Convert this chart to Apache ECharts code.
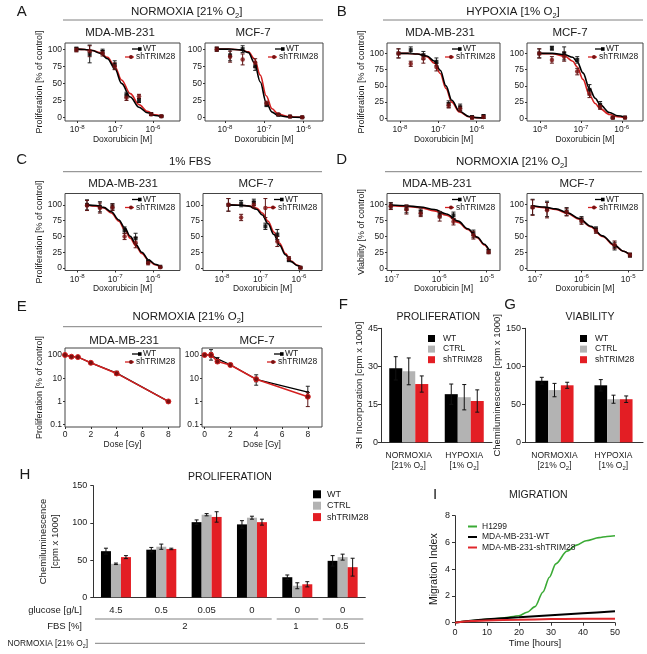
<!DOCTYPE html>
<html><head><meta charset="utf-8">
<script src="https://cdn.jsdelivr.net/npm/echarts@6/dist/echarts.min.js"></script>
<style>html,body{margin:0;padding:0;background:#fff}#c{width:647px;height:654px}</style>
</head><body><div id="c"></div>
<script>
const FONT = "'Liberation Sans', Arial, sans-serif";
const TXT = '#1a1a1a';

// ---------------- tick labels ----------------
const doseTicksABC = [-8, -7, -6];          // log10 of dose [M]
const doseTicksD = [-7, -6, -5];
const pctTicks = [0, 25, 50, 75, 100];
const eDoseTicks = [0, 2, 4, 6, 8];
const eYTicks = [0.1, 1, 10, 100];

// ---------------- A: normoxia, proliferation ----------------
const a1LogDose = [-8.02, -7.67, -7.33, -7.01, -6.70, -6.37, -6.05, -5.78];
const a1WT = [100, 93, 96, 77, 33, 25, 5, 2];
const a1WTsd = [3, 13, 4, 6, 4, 3, 2, 1];
const a1SH = [99, 97, 94, 75, 29, 31, 5, 2];
const a1SHsd = [3, 8, 4, 5, 4, 3, 2, 1];
const a1FitX = [-8.02, -7.8, -7.6, -7.4, -7.2, -7.0, -6.83, -6.6, -6.37, -6.15, -5.95, -5.78];
const a1FitWT = [100, 99.5, 98, 94, 86, 71, 50, 30, 15, 7, 3, 1.5];
const a1FitSH = [100, 99.5, 98, 95, 88, 74, 55, 35, 19, 9, 4, 2];

const a2LogDose = [-8.21, -7.87, -7.55, -7.23, -6.94, -6.64, -6.34, -6.03];
const a2WT = [100, 91, 100, 75, 19, 4, 1.5, 0.5];
const a2WTsd = [3, 8, 5, 6, 3, 1, 1, 0.5];
const a2SH = [100, 89, 85, 80, 21, 5, 1.5, 0.5];
const a2SHsd = [3, 8, 8, 6, 3, 1, 1, 0.5];
const a2FitX = [-8.21, -7.9, -7.6, -7.4, -7.25, -7.1, -6.95, -6.8, -6.64, -6.4, -6.2, -6.03];
const a2FitWT = [100, 100, 99, 95, 80, 52, 22, 8, 3, 1, 0.5, 0.3];
const a2FitSH = [100, 100, 99, 96, 86, 62, 32, 13, 5, 1.5, 0.7, 0.4];

// ---------------- B: hypoxia, proliferation ----------------
const b1LogDose = [-8.04, -7.72, -7.39, -7.05, -6.73, -6.43, -6.12, -5.82];
const b1WT = [100, 105, 97, 87, 22, 17, 2, 3];
const b1WTsd = [7, 5, 6, 6, 5, 5, 2, 3];
const b1SH = [100, 84, 92, 79, 20, 15, 1, 2];
const b1SHsd = [7, 4, 7, 6, 4, 4, 2, 2];
const b1FitX = [-8.04, -7.8, -7.55, -7.3, -7.1, -6.95, -6.8, -6.65, -6.45, -6.2, -6.0, -5.82];
const b1FitWT = [100, 100, 99, 96, 88, 74, 50, 28, 11, 3, 1.2, 0.6];
const b1FitSH = [100, 100, 99, 95, 85, 69, 46, 25, 10, 2.5, 1, 0.5];

const b2LogDose = [-8.02, -7.71, -7.41, -7.09, -6.79, -6.53, -6.22, -5.92];
const b2WT = [100, 108, 100, 90, 44, 21, 1, 1.5];
const b2WTsd = [7, 3, 10, 5, 8, 5, 1, 1];
const b2SH = [100, 90, 95, 72, 38, 18, 1, 1];
const b2SHsd = [7, 5, 7, 5, 6, 4, 1, 1];
const b2FitX = [-8.02, -7.7, -7.4, -7.2, -7.09, -6.95, -6.79, -6.65, -6.53, -6.3, -6.1, -5.92];
const b2FitWT = [100, 100, 98, 94, 87, 70, 46, 31, 21, 9, 4, 1.8];
const b2FitSH = [100, 99.5, 96, 88, 79, 60, 36, 23, 15, 6, 2.5, 1.2];

// ---------------- C: 1% FBS, proliferation ----------------
const c1LogDose = [-7.74, -7.4, -7.07, -6.75, -6.46, -6.13, -5.81];
const c1WT = [100, 97, 97, 60, 47, 10, 2];
const c1WTsd = [8, 8, 5, 5, 8, 3, 1];
const c1SH = [99, 95, 96, 50, 40, 8, 1];
const c1SHsd = [8, 8, 5, 5, 8, 3, 1];
const c1FitX = [-7.74, -7.5, -7.3, -7.1, -6.9, -6.75, -6.6, -6.45, -6.3, -6.1, -5.95, -5.81];
const c1FitWT = [100, 99, 96, 89, 76, 64, 50, 37, 25, 12, 6, 2.5];
const c1FitSH = [99.5, 98, 95, 87, 74, 61, 47, 35, 23, 11, 5, 2];

const c2LogDose = [-7.83, -7.5, -7.17, -6.87, -6.56, -6.26, -5.96];
const c2WT = [100, 102, 104, 66, 53, 13, 0.5];
const c2WTsd = [10, 5, 5, 5, 8, 3, 1];
const c2SH = [100, 80, 100, 95, 42, 15, 0.5];
const c2SHsd = [10, 5, 5, 15, 8, 3, 1];
const c2FitX = [-7.83, -7.55, -7.3, -7.1, -6.95, -6.8, -6.65, -6.5, -6.35, -6.2, -6.05, -5.96];
const c2FitWT = [100, 99.5, 98, 93, 84, 70, 53, 36, 21, 10, 4, 2];
const c2FitSH = [100, 99.5, 98.5, 95, 87, 74, 57, 39, 23, 11, 4.5, 2];

// ---------------- D: normoxia, viability ----------------
const d1LogDose = [-7.02, -6.69, -6.39, -5.99, -5.70, -5.28, -4.96];
const d1WT = [98, 93, 88, 84, 83, 54, 27];
const d1WTsd = [5, 6, 5, 5, 5, 6, 3];
const d1SH = [97, 92, 86, 81, 73, 52, 26];
const d1SHsd = [5, 7, 5, 7, 5, 6, 3];
const d1FitX = [-7.02, -6.7, -6.4, -6.1, -5.85, -5.6, -5.4, -5.2, -5.05, -4.96];
const d1FitWT = [99, 98, 96, 92, 85, 74, 62, 49, 38, 30];
const d1FitSH = [98, 97, 95, 90, 83, 72, 61, 48, 37, 29];

const d2LogDose = [-7.05, -6.74, -6.32, -6.0, -5.69, -5.29, -4.96];
const d2WT = [96, 93, 89, 76, 61, 35, 21];
const d2WTsd = [12, 12, 6, 5, 4, 6, 3];
const d2SH = [95, 91, 88, 74, 59, 37, 21];
const d2SHsd = [12, 12, 6, 5, 4, 6, 3];
const d2FitX = [-7.05, -6.8, -6.55, -6.3, -6.05, -5.8, -5.55, -5.3, -5.1, -4.96];
const d2FitWT = [98, 96, 93, 87, 78, 66, 51, 37, 27, 21];
const d2FitSH = [97, 95, 92, 86, 77, 65, 50, 36, 27, 21];

// ---------------- E: irradiation ----------------
const eDose = [0, 0.5, 1, 2, 4, 8];
const e1WT = [100, 85, 82, 46, 16.5, 1.0];
const e1WTlo = [95, 82, 79, 42, 14, 0.9];
const e1WThi = [105, 88, 85, 50, 20, 1.1];
const e1SH = [100, 84, 81, 46, 16, 1.0];
const e1SHlo = [95, 81, 78, 42, 14, 0.9];
const e1SHhi = [105, 87, 84, 50, 19, 1.1];
const e2WT = [100, 100, 68, 38, 9, 2.5];
const e2WTlo = [95, 60, 60, 33, 5, 1.8];
const e2WThi = [105, 170, 78, 44, 14, 4.5];
const e2SH = [100, 100, 52, 37, 9, 1.6];
const e2SHlo = [95, 80, 45, 32, 7, 0.6];
const e2SHhi = [105, 125, 60, 42, 11, 2.4];

// ---------------- F / G ----------------
const fgCats = ['NORMOXIA [21% O2]', 'HYPOXIA [1% O2]'];
const fWT = [29.2, 19], fWTsd = [4.6, 4];
const fCTRL = [28, 17.8], fCTRLsd = [5.3, 5];
const fSH = [23, 16.3], fSHsd = [3.2, 4.4];
const gWT = [81, 75], gWTsd = [4.5, 7.5];
const gCTRL = [68.7, 56.7], gCTRLsd = [8.8, 5.3];
const gSH = [75, 56.7], gSHsd = [4, 4.3];

// ---------------- H ----------------
const hGlucose = ['4.5', '0.5', '0.05', '0', '0', '0'];
const hWT = [62, 64, 101, 98, 27, 49], hWTsd = [4, 3, 3, 5, 3, 7];
const hCTRL = [45, 68, 111, 107, 15.5, 54], hCTRLsd = [1, 3.5, 1.5, 2, 4, 4];
const hSH = [54, 65, 108, 101, 17.5, 40.5], hSHsd = [2, 1, 7, 4, 3.5, 12];

// ---------------- I ----------------
const iTimeG = [0, 5, 10, 15, 20, 22.5, 25, 27.5, 29.5, 31.5, 35, 38, 41, 45, 47.5, 50];
const iH1299 = [0.02, 0.15, 0.25, 0.35, 0.52, 0.78, 1.2, 2.3, 3.4, 4.4, 5.35, 5.8, 6.13, 6.36, 6.45, 6.5];
const iTime = [0, 5, 10, 20, 30, 40, 50];
const iWT = [0, 0.15, 0.25, 0.4, 0.55, 0.7, 0.85];
const iSH = [0, 0.12, 0.17, 0.22, 0.27, 0.3, 0.3];

// ======================= builders =======================
const grids = [], xAxes = [], yAxes = [], series = [], legends = [], graphics = [];
const zip = (a, b) => a.map((v, i) => [v, b[i]]);
const BLACK = '#000', RED = '#d42020', DRED = '#7a1010', GRAY = '#b3b3b3', BRED = '#e31e24';

function errSeries(gi, xs, lo, hi, color, half, off, name) {
  return {
    type: 'custom', name, xAxisIndex: gi, yAxisIndex: gi, silent: true, z: 4,
    data: xs.map((x, i) => [x, lo[i], hi[i]]),
    encode: { x: 0, y: [1, 2] },
    renderItem: (params, api) => {
      const a = api.coord([api.value(0), api.value(1)]);
      const b = api.coord([api.value(0), api.value(2)]);
      const x = a[0] + (off || 0);
      const st = { stroke: color, lineWidth: 1 };
      return { type: 'group', children: [
        { type: 'line', shape: { x1: x, y1: a[1], x2: x, y2: b[1] }, style: st },
        { type: 'line', shape: { x1: x - half, y1: a[1], x2: x + half, y2: a[1] }, style: st },
        { type: 'line', shape: { x1: x - half, y1: b[1], x2: x + half, y2: b[1] }, style: st }
      ] };
    }
  };
}

function supRich(size) {
  return {
    b: { fontSize: size, fontFamily: FONT, color: TXT, lineHeight: size + 3 },
    s: { fontSize: size * 0.72, fontFamily: FONT, color: TXT, verticalAlign: 'top', lineHeight: size * 0.55 }
  };
}

function doseLegend(right, top) {
  const y1 = top + 6, y2 = top + 14;
  graphics.push(
    { type: 'line', shape: { x1: right - 48, y1: y1, x2: right - 39, y2: y1 }, style: { stroke: BLACK, lineWidth: 1.3 }, silent: true },
    { type: 'rect', shape: { x: right - 42, y: y1 - 1.8, width: 3.6, height: 3.6 }, style: { fill: BLACK }, silent: true },
    { type: 'text', x: right - 37, y: y1, style: { text: 'WT', fontSize: 8.5, fontFamily: FONT, fill: TXT, align: 'left', verticalAlign: 'middle' }, silent: true },
    { type: 'line', shape: { x1: right - 55, y1: y2, x2: right - 46, y2: y2 }, style: { stroke: RED, lineWidth: 1.3 }, silent: true },
    { type: 'circle', shape: { cx: right - 49, cy: y2, r: 2 }, style: { fill: DRED }, silent: true },
    { type: 'text', x: right - 44, y: y2, style: { text: 'shTRIM28', fontSize: 8.5, fontFamily: FONT, fill: TXT, align: 'left', verticalAlign: 'middle' }, silent: true }
  );
}

function dosePanel(p) {
  const gi = grids.length;
  const [l, t, w, h] = p.box;
  grids.push({ left: l, top: t, width: w, height: h, show: true, borderColor: '#444', borderWidth: 1 });
  xAxes.push({
    gridIndex: gi, type: 'value', min: p.x[0], max: p.x[1], position: 'bottom',
    axisLine: { show: false, onZero: false }, splitLine: { show: false },
    axisTick: { show: true, customValues: p.ticks, length: 2, lineStyle: { color: '#333' } },
    axisLabel: { customValues: p.ticks, margin: 3, formatter: v => '{b|10}{s|' + v + '}', rich: supRich(8.5) },
    name: 'Doxorubicin [M]', nameLocation: 'middle', nameGap: 12,
    nameTextStyle: { fontSize: 8.5, color: TXT, fontFamily: FONT }
  });
  yAxes.push({
    gridIndex: gi, type: 'value', min: p.y[0], max: p.y[1], position: 'left',
    axisLine: { show: false, onZero: false }, splitLine: { show: false },
    axisTick: { show: true, customValues: pctTicks, length: 2, lineStyle: { color: '#333' } },
    axisLabel: { customValues: pctTicks, fontSize: 8.5, margin: 3, color: TXT, fontFamily: FONT },
    name: p.yName || '', nameLocation: 'middle', nameGap: 17,
    nameTextStyle: { fontSize: 9, color: TXT, fontFamily: FONT }
  });
  const id = p.id;
  series.push(
    { type: 'line', name: id + ' shTRIM28 fit', xAxisIndex: gi, yAxisIndex: gi, data: zip(p.fx, p.fsh), symbol: 'none', smooth: 0.35, smoothMonotone: 'x', lineStyle: { color: RED, width: 1.6 }, z: 2, silent: true },
    { type: 'line', name: id + ' WT fit', xAxisIndex: gi, yAxisIndex: gi, data: zip(p.fx, p.fwt), symbol: 'none', smooth: 0.35, smoothMonotone: 'x', lineStyle: { color: BLACK, width: 1.6 }, z: 3, silent: true },
    errSeries(gi, p.d, p.wt.map((v, i) => v - p.wtsd[i]), p.wt.map((v, i) => v + p.wtsd[i]), '#222', 2, 0, id + ' WT sd'),
    errSeries(gi, p.d, p.sh.map((v, i) => v - p.shsd[i]), p.sh.map((v, i) => v + p.shsd[i]), '#5a1515', 2, 0, id + ' sh sd'),
    { type: 'scatter', name: id + ' WT', xAxisIndex: gi, yAxisIndex: gi, data: zip(p.d, p.wt), symbol: 'rect', symbolSize: 4, itemStyle: { color: BLACK }, z: 5, silent: true },
    { type: 'scatter', name: id + ' shTRIM28', xAxisIndex: gi, yAxisIndex: gi, data: zip(p.d, p.sh), symbol: 'circle', symbolSize: 4.5, itemStyle: { color: DRED }, z: 6, silent: true }
  );
  doseLegend(l + w, t);
}

const PROLIF = 'Proliferation [% of control]';
dosePanel({ id: 'A1', box: [65, 43, 115, 78], x: [-8.32, -5.29], y: [-5, 109], ticks: doseTicksABC, yName: PROLIF,
  d: a1LogDose, wt: a1WT, wtsd: a1WTsd, sh: a1SH, shsd: a1SHsd, fx: a1FitX, fwt: a1FitWT, fsh: a1FitSH });
dosePanel({ id: 'A2', box: [205, 43, 118, 78], x: [-8.51, -5.5], y: [-5, 109], ticks: doseTicksABC,
  d: a2LogDose, wt: a2WT, wtsd: a2WTsd, sh: a2SH, shsd: a2SHsd, fx: a2FitX, fwt: a2FitWT, fsh: a2FitSH });
dosePanel({ id: 'B1', box: [387, 43, 113, 78], x: [-8.34, -5.39], y: [-4, 116], ticks: doseTicksABC, yName: PROLIF,
  d: b1LogDose, wt: b1WT, wtsd: b1WTsd, sh: b1SH, shsd: b1SHsd, fx: b1FitX, fwt: b1FitWT, fsh: b1FitSH });
dosePanel({ id: 'B2', box: [527, 43, 116, 78], x: [-8.32, -5.48], y: [-4, 116], ticks: doseTicksABC,
  d: b2LogDose, wt: b2WT, wtsd: b2WTsd, sh: b2SH, shsd: b2SHsd, fx: b2FitX, fwt: b2FitWT, fsh: b2FitSH });
dosePanel({ id: 'C1', box: [65, 193.5, 115, 77], x: [-8.32, -5.29], y: [-4, 118], ticks: doseTicksABC, yName: PROLIF,
  d: c1LogDose, wt: c1WT, wtsd: c1WTsd, sh: c1SH, shsd: c1SHsd, fx: c1FitX, fwt: c1FitWT, fsh: c1FitSH });
dosePanel({ id: 'C2', box: [203, 193.5, 119, 77], x: [-8.49, -5.4], y: [-4, 118], ticks: doseTicksABC,
  d: c2LogDose, wt: c2WT, wtsd: c2WTsd, sh: c2SH, shsd: c2SHsd, fx: c2FitX, fwt: c2FitWT, fsh: c2FitSH });
dosePanel({ id: 'D1', box: [387, 193.5, 113, 77], x: [-7.1, -4.72], y: [-3, 117], ticks: doseTicksD, yName: 'Viability [% of control]',
  d: d1LogDose, wt: d1WT, wtsd: d1WTsd, sh: d1SH, shsd: d1SHsd, fx: d1FitX, fwt: d1FitWT, fsh: d1FitSH });
dosePanel({ id: 'D2', box: [527, 193.5, 116, 77], x: [-7.17, -4.68], y: [-3, 117], ticks: doseTicksD,
  d: d2LogDose, wt: d2WT, wtsd: d2WTsd, sh: d2SH, shsd: d2SHsd, fx: d2FitX, fwt: d2FitWT, fsh: d2FitSH });

function ePanel(p) {
  const gi = grids.length;
  const [l, t, w, h] = p.box;
  const L = v => Math.log10(v);
  grids.push({ left: l, top: t, width: w, height: h, show: true, borderColor: '#444', borderWidth: 1 });
  xAxes.push({
    gridIndex: gi, type: 'value', min: p.x[0], max: p.x[1], position: 'bottom',
    axisLine: { show: false, onZero: false }, splitLine: { show: false },
    axisTick: { show: true, customValues: eDoseTicks, length: 2, lineStyle: { color: '#333' } },
    axisLabel: { customValues: eDoseTicks, fontSize: 8.5, margin: 3, color: TXT, fontFamily: FONT },
    name: 'Dose [Gy]', nameLocation: 'middle', nameGap: 12, nameTextStyle: { fontSize: 8.5, color: TXT, fontFamily: FONT }
  });
  yAxes.push({
    gridIndex: gi, type: 'value', min: -1.1, max: 2.3, position: 'left',
    axisLine: { show: false, onZero: false }, splitLine: { show: false },
    axisTick: { show: true, customValues: eYTicks.map(L), length: 2, lineStyle: { color: '#333' } },
    axisLabel: { customValues: eYTicks.map(L), fontSize: 8.5, margin: 3, color: TXT, fontFamily: FONT,
      formatter: v => { const r = Math.pow(10, v); return r < 1 ? r.toFixed(1) : String(Math.round(r)); } },
    name: p.yName || '', nameLocation: 'middle', nameGap: 17, nameTextStyle: { fontSize: 9, color: TXT, fontFamily: FONT }
  });
  const id = p.id;
  series.push(
    errSeries(gi, eDose, p.wtlo.map(L), p.wthi.map(L), '#222', 2, 0, id + ' WT sd'),
    { type: 'line', name: id + ' WT', xAxisIndex: gi, yAxisIndex: gi, data: zip(eDose, p.wt.map(L)), symbol: 'circle', symbolSize: 3, itemStyle: { color: BLACK }, lineStyle: { color: BLACK, width: 1.3 }, z: 3, silent: true },
    errSeries(gi, eDose, p.shlo.map(L), p.shhi.map(L), '#5a1515', 2, 0, id + ' sh sd'),
    { type: 'line', name: id + ' shTRIM28', xAxisIndex: gi, yAxisIndex: gi, data: zip(eDose, p.sh.map(L)), symbol: 'circle', symbolSize: 5, itemStyle: { color: DRED, borderColor: RED, borderWidth: 1 }, lineStyle: { color: RED, width: 1.5 }, z: 5, silent: true }
  );
  doseLegend(l + w, t);
}
ePanel({ id: 'E1', box: [65, 348, 115, 79], x: [0, 8.9], yName: PROLIF, wt: e1WT, wtlo: e1WTlo, wthi: e1WThi, sh: e1SH, shlo: e1SHlo, shhi: e1SHhi });
ePanel({ id: 'E2', box: [202, 348, 120, 79], x: [-0.2, 9.1], wt: e2WT, wtlo: e2WTlo, wthi: e2WThi, sh: e2SH, shlo: e2SHlo, shhi: e2SHhi });

function catLabel(v) {
  const k = v.indexOf(' [');
  const a = v.slice(0, k), b = v.slice(k + 1).replace('O2]', 'O');
  return '{a|' + a + '}\n{a|' + b + '}{s|2}{a|]}';
}
const catRich = {
  a: { fontSize: 8.5, fontFamily: FONT, color: TXT, lineHeight: 10.5 },
  s: { fontSize: 6, fontFamily: FONT, color: TXT, verticalAlign: 'bottom', lineHeight: 5 }
};

function barPanel(p) {
  const gi = grids.length;
  grids.push({ left: p.box[0], top: p.box[1], width: p.box[2], height: p.box[3], show: false });
  xAxes.push({
    gridIndex: gi, type: 'category', data: p.cats,
    axisLine: { lineStyle: { color: '#333', width: 1 } },
    axisTick: { length: p.tickLen || 3, lineStyle: { color: '#333' } },
    axisLabel: p.labelFmt ? { interval: 0, margin: p.labelMargin, formatter: p.labelFmt, rich: p.rich, fontSize: p.labelSize, color: TXT, fontFamily: FONT }
                          : { interval: 0, margin: p.labelMargin, fontSize: p.labelSize, color: TXT, fontFamily: FONT }
  });
  yAxes.push({
    gridIndex: gi, type: 'value', min: 0, max: p.yMax, interval: p.yInt,
    axisLine: { show: true, lineStyle: { color: '#333', width: 1 } }, splitLine: { show: false },
    axisTick: { show: true, length: 3, lineStyle: { color: '#333' } },
    axisLabel: { fontSize: p.yLabelSize, margin: p.yMargin, color: TXT, fontFamily: FONT },
    name: p.yName, nameLocation: 'middle', nameGap: p.yNameGap,
    nameTextStyle: { fontSize: p.yNameSize, color: TXT, fontFamily: FONT, lineHeight: p.yNameLH || undefined }
  });
  const idx = p.cats.map((c, i) => i);
  const bw = p.bw;
  const sets = [['WT', BLACK, p.wt, p.wtsd], ['CTRL', GRAY, p.ctrl, p.ctrlsd], ['shTRIM28', BRED, p.sh, p.shsd]];
  sets.forEach(([name, color, vals]) => {
    series.push({ type: 'bar', name, xAxisIndex: gi, yAxisIndex: gi, data: vals, barWidth: bw, barGap: '0%', itemStyle: { color }, z: 2, silent: true });
  });
  sets.forEach(([name, color, vals, sd], k) => {
    series.push(errSeries(gi, idx, vals.map((v, i) => v - sd[i]), vals.map((v, i) => v + sd[i]), '#111', 2, (k - 1) * bw, p.id + ' ' + name + ' sd'));
  });
}

barPanel({ id: 'F', box: [381, 328.3, 111, 114], cats: fgCats, labelFmt: catLabel, rich: catRich, labelMargin: 8, labelSize: 8.5,
  yMax: 45, yInt: 15, yLabelSize: 9, yMargin: 3, yName: '3H Incorporation [cpm x 1000]', yNameGap: 12, yNameSize: 9.5,
  bw: 13, wt: fWT, wtsd: fWTsd, ctrl: fCTRL, ctrlsd: fCTRLsd, sh: fSH, shsd: fSHsd });
barPanel({ id: 'G', box: [525, 328.3, 118, 114], cats: fgCats, labelFmt: catLabel, rich: catRich, labelMargin: 8, labelSize: 8.5,
  yMax: 150, yInt: 50, yLabelSize: 9, yMargin: 4, yName: 'Chemiluminescence [cpm x 1000]', yNameGap: 18, yNameSize: 9.5,
  bw: 12.7, wt: gWT, wtsd: gWTsd, ctrl: gCTRL, ctrlsd: gCTRLsd, sh: gSH, shsd: gSHsd });
barPanel({ id: 'H', box: [93.3, 485.7, 272, 111.6], cats: hGlucose, labelMargin: 8, labelSize: 9.5, tickLen: 4,
  yMax: 150, yInt: 50, yLabelSize: 9, yMargin: 6, yName: 'Chemiluminescence\n[cpm x 1000]', yNameGap: 32, yNameSize: 9.5, yNameLH: 12,
  bw: 10, wt: hWT, wtsd: hWTsd, ctrl: hCTRL, ctrlsd: hCTRLsd, sh: hSH, shsd: hSHsd });

// legends for bar panels
const barLegendData = ['WT', 'CTRL', 'shTRIM28'];
legends.push(
  { left: 423, top: 329, orient: 'vertical', icon: 'rect', itemWidth: 7, itemHeight: 7, itemGap: 1.6, selectedMode: false,
    textStyle: { fontSize: 8.5, color: TXT, fontFamily: FONT, padding: [0, 0, 0, 3] }, data: barLegendData },
  { left: 575, top: 329, orient: 'vertical', icon: 'rect', itemWidth: 7, itemHeight: 7, itemGap: 1.6, selectedMode: false,
    textStyle: { fontSize: 8.5, color: TXT, fontFamily: FONT, padding: [0, 0, 0, 3] }, data: barLegendData },
  { left: 308, top: 484.8, orient: 'vertical', icon: 'rect', itemWidth: 8, itemHeight: 8, itemGap: 2.4, selectedMode: false,
    textStyle: { fontSize: 9, color: TXT, fontFamily: FONT, padding: [0, 0, 0, 1] }, data: barLegendData }
);

// I: migration
{
  const gi = grids.length;
  grids.push({ left: 455, top: 515.7, width: 160, height: 107, show: false });
  xAxes.push({ gridIndex: gi, type: 'value', min: 0, max: 50, interval: 10,
    axisLine: { lineStyle: { color: '#333' } }, splitLine: { show: false },
    axisTick: { length: 3, lineStyle: { color: '#333' } },
    axisLabel: { fontSize: 9, margin: 5, color: TXT, fontFamily: FONT },
    name: 'Time [hours]', nameLocation: 'middle', nameGap: 16, nameTextStyle: { fontSize: 9.5, color: TXT, fontFamily: FONT } });
  yAxes.push({ gridIndex: gi, type: 'value', min: 0, max: 8, interval: 2,
    axisLine: { show: true, lineStyle: { color: '#333' } }, splitLine: { show: false },
    axisTick: { show: true, length: 3, lineStyle: { color: '#333' } },
    axisLabel: { fontSize: 9, margin: 5, color: TXT, fontFamily: FONT },
    name: 'Migration Index', nameLocation: 'middle', nameGap: 15, nameTextStyle: { fontSize: 10.5, color: TXT, fontFamily: FONT } });
  series.push(
    { type: 'line', name: 'H1299', xAxisIndex: gi, yAxisIndex: gi, data: zip(iTimeG, iH1299), symbol: 'none', smooth: 0.3, smoothMonotone: 'x', lineStyle: { color: '#3aaa35', width: 1.6 }, itemStyle: { color: '#3aaa35' }, silent: true },
    { type: 'line', name: 'MDA-MB-231-WT', xAxisIndex: gi, yAxisIndex: gi, data: zip(iTime, iWT), symbol: 'none', smooth: 0.3, lineStyle: { color: BLACK, width: 2 }, itemStyle: { color: BLACK }, silent: true },
    { type: 'line', name: 'MDA-MB-231-shTRIM28', xAxisIndex: gi, yAxisIndex: gi, data: zip(iTime, iSH), symbol: 'none', smooth: 0.3, lineStyle: { color: '#e0282c', width: 2 }, itemStyle: { color: '#e0282c' }, silent: true }
  );
  legends.push({ left: 463, top: 517, orient: 'vertical', icon: 'rect', itemWidth: 9, itemHeight: 2, itemGap: 1.5, selectedMode: false,
    textStyle: { fontSize: 8.5, color: TXT, fontFamily: FONT, padding: [0, 0, 0, 0] },
    data: ['H1299', 'MDA-MB-231-WT', 'MDA-MB-231-shTRIM28'] });
}

// ---------------- text annotations ----------------
function txt(x, y, text, size, align) {
  graphics.push({ type: 'text', x, y, silent: true, z: 50,
    style: { text, fontSize: size, fontFamily: FONT, fill: TXT, align: align || 'center', verticalAlign: 'middle' } });
}
function subTxt(x, y, before, after, size, align) {
  graphics.push({ type: 'text', x, y, silent: true, z: 50,
    style: { text: '{t|' + before + '}{u|2}{t|' + after + '}', align: align || 'center', verticalAlign: 'middle',
      rich: { t: { fontSize: size, fontFamily: FONT, fill: TXT, lineHeight: size * 1.3 },
              u: { fontSize: size * 0.65, fontFamily: FONT, fill: TXT, verticalAlign: 'bottom', lineHeight: size * 0.55 } } } });
}
function hline(x1, x2, y, color) {
  graphics.push({ type: 'line', silent: true, shape: { x1, y1: y, x2, y2: y }, style: { stroke: color || '#808080', lineWidth: 1 } });
}

[['A', 21.7, 11.7], ['B', 341.7, 11.7], ['C', 21.7, 160], ['D', 341.7, 160], ['E', 21.7, 306.7],
 ['F', 343.3, 305], ['G', 510, 305], ['H', 25, 475], ['I', 435, 495]].forEach(([s, x, y]) => txt(x, y, s, 15));

subTxt(186.7, 11.7, 'NORMOXIA [21% O', ']', 11.5); hline(63, 323, 20);
subTxt(513, 11.7, 'HYPOXIA [1% O', ']', 11.5); hline(383, 643, 20);
txt(190, 161.7, '1% FBS', 11.5); hline(63, 322, 171.7);
subTxt(511.7, 161.7, 'NORMOXIA [21% O', ']', 11.5); hline(385, 642, 171.7);
subTxt(188.3, 316.7, 'NORMOXIA [21% O', ']', 11.5); hline(63, 322, 326.7);

[[120, 33.3, 'MDA-MB-231'], [253, 33.3, 'MCF-7'], [440, 33.3, 'MDA-MB-231'], [570, 33.3, 'MCF-7'],
 [123, 184.3, 'MDA-MB-231'], [256, 184.3, 'MCF-7'], [437, 184.3, 'MDA-MB-231'], [577, 184.3, 'MCF-7'],
 [124, 341, 'MDA-MB-231'], [257, 341, 'MCF-7']].forEach(([x, y, s]) => txt(x, y, s, 11.5));

txt(438.3, 316.7, 'PROLIFERATION', 10.5);
txt(590, 316.7, 'VIABILITY', 10.5);
txt(230, 476.7, 'PROLIFERATION', 10.5);
txt(538.3, 495, 'MIGRATION', 10.5);

// H bottom annotations
txt(82, 610, 'glucose [g/L]', 9.5, 'right');
hline(95, 271.7, 619); hline(276.7, 318.3, 619); hline(322.7, 363.3, 619);
txt(82, 626.5, 'FBS [%]', 9.5, 'right');
txt(185, 626.5, '2', 9.5); txt(296, 626.5, '1', 9.5); txt(342, 626.5, '0.5', 9.5);
subTxt(88, 643.3, 'NORMOXIA [21% O', ']', 8.3, 'right');
hline(95, 365, 643.3);

const chart = echarts.init(document.getElementById('c'), null, { renderer: 'canvas' });
chart.setOption({
  animation: false,
  backgroundColor: '#fff',
  textStyle: { fontFamily: FONT },
  grid: grids, xAxis: xAxes, yAxis: yAxes, series, legend: legends,
  graphic: { elements: graphics }
});
</script></body></html>
